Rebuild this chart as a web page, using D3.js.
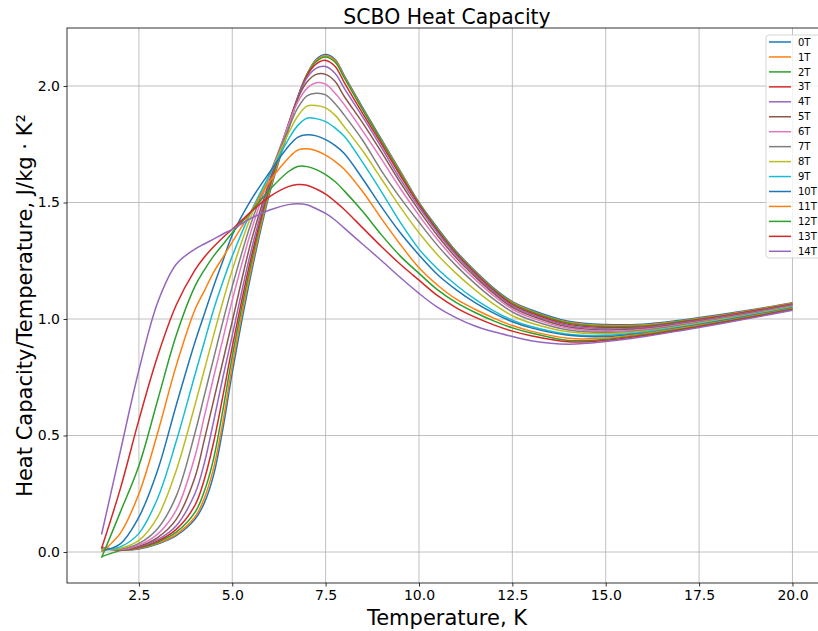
<!DOCTYPE html>
<html><head><meta charset="utf-8">
<script src="https://cdn.jsdelivr.net/npm/d3@7"></script>
<style>body{margin:0;background:#fff} svg{display:block} text{font-family:"DejaVu Sans",sans-serif;fill:#000}</style>
</head><body><svg id="chart" width="818" height="631"></svg>
<script>
const temperature = [1.5,2,2.5,3,3.5,4, 4.25,4.5,4.75,5, 5.5,6,6.5,6.75, 7,7.25,7.5,7.75, 8,8.5,9,9.5, 10,10.5,11,11.5, 12,12.5,13,14, 15,16,17,18,19,20];
const hc0T  = [0.015,0.008,0.013,0.034,0.070,0.14, 0.21,0.33,0.53,0.77, 1.19,1.54,1.81,1.95, 2.05,2.115,2.135,2.115, 2.045,1.905,1.77,1.635, 1.50,1.39,1.29,1.207, 1.133,1.075,1.04,0.99, 0.976,0.978,0.995,1.017,1.042,1.07];
const hc1T  = [0.015,0.008,0.015,0.037,0.076,0.15, 0.23,0.36,0.56,0.80, 1.21,1.55,1.815,1.948, 2.05,2.11,2.13,2.11, 2.04,1.90,1.765,1.63, 1.497,1.385,1.286,1.203, 1.129,1.071,1.035,0.986, 0.972,0.974,0.992,1.014,1.04,1.068];
const hc2T  = [-0.02,0.006,0.018,0.042,0.085,0.17, 0.26,0.40,0.61,0.84, 1.235,1.565,1.82,1.948, 2.048,2.105,2.125,2.103, 2.035,1.895,1.76,1.625, 1.494,1.382,1.283,1.20, 1.126,1.067,1.031,0.982, 0.968,0.970,0.989,1.011,1.037,1.065];
const hc3T  = [0.02,0.009,0.02,0.047,0.097,0.20, 0.31,0.47,0.67,0.88, 1.26,1.575,1.83,1.95, 2.044,2.095,2.11,2.085, 2.015,1.88,1.75,1.615, 1.49,1.377,1.279,1.196, 1.122,1.062,1.026,0.977, 0.963,0.966,0.985,1.009,1.035,1.063];
const hc4T  = [0.02,0.01,0.022,0.053,0.113,0.25, 0.38,0.56,0.75,0.93, 1.29,1.585,1.835,1.95, 2.035,2.077,2.084,2.055, 1.99,1.865,1.735,1.60, 1.48,1.37,1.273,1.19, 1.117,1.056,1.02,0.972, 0.958,0.963,0.982,1.006,1.032,1.061];
const hc5T  = [0.018,0.01,0.025,0.062,0.14,0.32, 0.48,0.65,0.82,0.99, 1.33,1.595,1.835,1.945, 2.017,2.05,2.05,2.02, 1.955,1.84,1.715,1.585, 1.466,1.357,1.262,1.182, 1.11,1.05,1.014,0.966, 0.953,0.959,0.979,1.003,1.03,1.059];
const hc6T  = [0.018,0.011,0.03,0.077,0.18,0.41, 0.58,0.75,0.915,1.08, 1.375,1.615,1.83,1.93, 1.99,2.014,2.008,1.97, 1.92,1.805,1.685,1.56, 1.445,1.34,1.248,1.17, 1.10,1.042,1.006,0.96, 0.948,0.955,0.976,1.0,1.027,1.056];
const hc7T  = [0.016,0.013,0.037,0.10,0.24,0.51, 0.67,0.83,0.99,1.14, 1.41,1.62,1.815,1.905, 1.958,1.969,1.962,1.925, 1.875,1.765,1.635,1.52, 1.415,1.315,1.228,1.152, 1.085,1.03,0.996,0.953, 0.943,0.951,0.973,0.998,1.025,1.054];
const hc8T  = [0.012,0.016,0.05,0.15,0.35,0.63, 0.78,0.93,1.075,1.21, 1.44,1.62,1.795,1.87, 1.914,1.916,1.906,1.875, 1.825,1.72,1.60,1.48, 1.37,1.275,1.195,1.125, 1.064,1.014,0.983,0.945, 0.937,0.947,0.969,0.995,1.022,1.052];
const hc9T  = [0.008,0.022,0.08,0.23,0.475,0.76, 0.90,1.04,1.16,1.27, 1.46,1.62,1.77,1.83, 1.862,1.86,1.847,1.82, 1.784,1.67,1.545,1.415, 1.30,1.215,1.145,1.085, 1.035,0.995,0.968,0.935, 0.93,0.943,0.966,0.992,1.02,1.049];
const hc10T = [0.004,0.035,0.15,0.35,0.63,0.90, 1.02,1.14,1.25,1.36, 1.51,1.63,1.74,1.78, 1.791,1.786,1.77,1.745, 1.71,1.60,1.48,1.37, 1.275,1.19,1.125,1.07, 1.025,0.988,0.962,0.93, 0.925,0.939,0.963,0.989,1.017,1.047];
const hc11T = [0.0,0.08,0.25,0.51,0.80,1.04, 1.12,1.20,1.265,1.33, 1.46,1.59,1.69,1.725, 1.731,1.722,1.703,1.677, 1.643,1.545,1.43,1.32, 1.22,1.145,1.085,1.042, 1.004,0.972,0.948,0.917, 0.918,0.936,0.96,0.986,1.015,1.045];
const hc12T = [-0.025,0.17,0.37,0.65,0.93,1.14, 1.21,1.27,1.32,1.37, 1.46,1.555,1.632,1.655, 1.654,1.641,1.62,1.59, 1.55,1.46,1.36,1.27, 1.196,1.125,1.07,1.028, 0.992,0.962,0.94,0.908, 0.913,0.932,0.956,0.984,1.012,1.043];
const hc13T = [0.015,0.27,0.567,0.84,1.06,1.21, 1.265,1.31,1.35,1.385, 1.46,1.525,1.568,1.577, 1.574,1.558,1.536,1.505, 1.47,1.39,1.31,1.235, 1.167,1.10,1.048,1.008, 0.975,0.948,0.928,0.902, 0.908,0.928,0.953,0.981,1.01,1.04];
const hc14T = [0.075,0.43,0.78,1.07,1.235,1.30, 1.322,1.343,1.365,1.385, 1.432,1.468,1.491,1.495, 1.49,1.473,1.453,1.425, 1.39,1.32,1.25,1.178, 1.11,1.05,1.005,0.97, 0.945,0.925,0.907,0.892, 0.903,0.924,0.95,0.978,1.007,1.038];

const fieldLabels = ["0T","1T","2T","3T","4T","5T","6T","7T","8T","9T","10T","11T","12T","13T","14T"];
const xTicks = [2.5,5,7.5,10,12.5,15,17.5,20];
const yTicks = [0,0.5,1,1.5,2];
const palette = ["#1f77b4","#ff7f0e","#2ca02c","#d62728","#9467bd","#8c564b","#e377c2","#7f7f7f","#bcbd22","#17becf"];

const seriesValues = [hc0T,hc1T,hc2T,hc3T,hc4T,hc5T,hc6T,hc7T,hc8T,hc9T,hc10T,hc11T,hc12T,hc13T,hc14T];
const series = fieldLabels.map((name,i)=>({name, color: palette[i%10], pts: temperature.map((t,j)=>[t, seriesValues[i][j]])}));

const svg = d3.select("#chart");
const L=67, T=28, R=827, B=583;
const x = d3.scaleLinear().domain([0.575,20.925]).range([L,R]);
const y = d3.scaleLinear().domain([-0.133,2.249]).range([B,T]);

svg.append("rect").attr("width",818).attr("height",631).attr("fill","#fff");

const grid = svg.append("g").attr("stroke","#b0b0b0").attr("stroke-width",0.8);
xTicks.forEach(v=>grid.append("line").attr("x1",x(v)).attr("x2",x(v)).attr("y1",T).attr("y2",B));
yTicks.forEach(v=>grid.append("line").attr("y1",y(v)).attr("y2",y(v)).attr("x1",L).attr("x2",R));

svg.append("clipPath").attr("id","clip").append("rect").attr("x",L).attr("y",T).attr("width",R-L).attr("height",B-T);
const line = d3.line().x(d=>x(d[0])).y(d=>y(d[1])).curve(d3.curveCatmullRom.alpha(0.5));
const cg = svg.append("g").attr("clip-path","url(#clip)");
series.forEach(s=>{
  cg.append("path").attr("d",line(s.pts)).attr("fill","none").attr("stroke",s.color).attr("stroke-width",1.5).attr("stroke-linejoin","round");
});

const xAxis = d3.axisBottom(x).tickValues(xTicks).tickFormat(d3.format(".1f")).tickSizeInner(3.5).tickSizeOuter(0).tickPadding(3.5);
const yAxis = d3.axisLeft(y).tickValues(yTicks).tickFormat(d3.format(".1f")).tickSizeInner(3.5).tickSizeOuter(0).tickPadding(3.5);
const gx = svg.append("g").attr("transform",`translate(0,${B})`).call(xAxis);
const gy = svg.append("g").attr("transform",`translate(${L},0)`).call(yAxis);
[gx,gy].forEach(g=>{
  g.select(".domain").remove();
  g.selectAll(".tick line").attr("stroke","#000").attr("stroke-width",0.8);
  g.selectAll(".tick text").attr("font-size",14).attr("font-family","DejaVu Sans").attr("fill","#000");
});

svg.append("rect").attr("x",L).attr("y",T).attr("width",R-L).attr("height",B-T).attr("fill","none").attr("stroke","#000").attr("stroke-width",0.8);

svg.append("text").attr("x",(L+R)/2).attr("y",24).attr("text-anchor","middle").attr("font-size",20.4).text("SCBO Heat Capacity");
svg.append("text").attr("x",(L+R)/2).attr("y",625).attr("text-anchor","middle").attr("font-size",21).text("Temperature, K");
svg.append("text").attr("transform",`translate(32,${(T+B)/2}) rotate(-90)`).attr("text-anchor","middle").attr("font-size",21).text("Heat Capacity/Temperature, J/kg · K²");

const lg = svg.append("g");
lg.append("rect").attr("x",766).attr("y",35).attr("width",60).attr("height",223).attr("rx",3)
  .attr("fill","#fff").attr("fill-opacity",0.8).attr("stroke","#cccccc").attr("stroke-width",0.8);
series.forEach((s,i)=>{
  const yy = 42 + i*14.95;
  lg.append("line").attr("x1",769).attr("x2",791).attr("y1",yy).attr("y2",yy).attr("stroke",s.color).attr("stroke-width",1.5);
  lg.append("text").attr("x",798).attr("y",yy+3.6).attr("font-size",10).text(s.name);
});
</script></body></html>
